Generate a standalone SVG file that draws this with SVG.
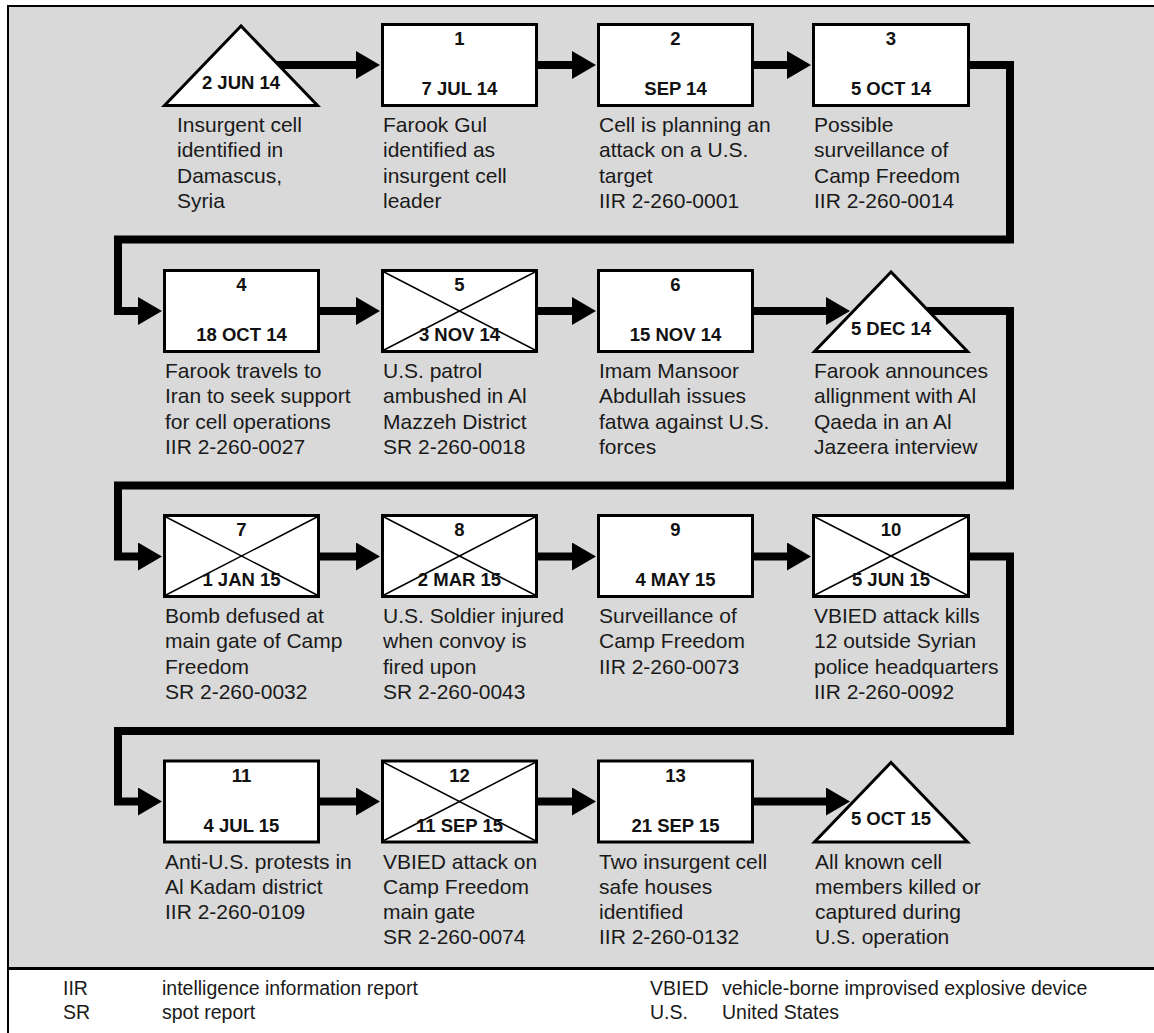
<svg xmlns="http://www.w3.org/2000/svg" width="1154" height="1033" viewBox="0 0 1154 1033">
  <defs>
    <marker id="arrow" markerUnits="userSpaceOnUse" markerWidth="25" markerHeight="28" refX="1" refY="14" orient="auto">
      <path d="M0,0 L24,14 L0,28 Z" fill="#000"/>
    </marker>
  </defs>
  <style>
    .box { fill: #fff; stroke: #000; stroke-width: 3; }
    .tri { fill: #fff; stroke: #000; stroke-width: 3; stroke-linejoin: miter; }
    .x { stroke: #000; stroke-width: 1.5; }
    .conn { fill: none; stroke: #000; stroke-width: 8; stroke-linejoin: miter; marker-end: url(#arrow); }
    .hd { font-family: "Liberation Sans", Arial, sans-serif; font-weight: bold; font-size: 18.5px; fill: #111; text-anchor: middle; }
    .body { font-family: "Liberation Sans", Arial, sans-serif; font-size: 21px; fill: #1a1a1a; }
    .leg { font-family: "Liberation Sans", Arial, sans-serif; font-size: 19.5px; fill: #1a1a1a; }
  </style>

  <!-- panel -->
  <rect x="7" y="5" width="1147" height="964" fill="#d9d9d9"/>
  <rect x="9" y="969" width="1145" height="64" fill="#fff"/>
  <line x1="7" y1="6" x2="1154" y2="6" stroke="#000" stroke-width="2"/>
  <line x1="8" y1="5" x2="8" y2="1033" stroke="#000" stroke-width="2"/>
  <line x1="7" y1="968.5" x2="1154" y2="968.5" stroke="#000" stroke-width="3"/>

  <!-- connectors -->
  <g id="connectors" class="conn">
    <path d="M241 65 H357"/>
    <path d="M538 65 H573"/>
    <path d="M754 65 H788"/>
    <path d="M970 65 H1010 V239.5 H118 V311 H139"/>
    <path d="M320 311 H357"/>
    <path d="M538 311 H573"/>
    <path d="M754 311 H827"/>
    <path d="M891 311 H1010 V485.5 H118 V556.5 H139"/>
    <path d="M320 556.5 H357"/>
    <path d="M538 556.5 H573"/>
    <path d="M754 556.5 H788"/>
    <path d="M970 556.5 H1010 V731 H118 V801.5 H139"/>
    <path d="M320 801.5 H357"/>
    <path d="M538 801.5 H573"/>
    <path d="M754 801.5 H827"/>
  </g>

  <!-- row 1 -->
  <g id="n0">
    <polygon class="tri" points="241,26 164.5,105.5 317.5,105.5"/>
    <text class="hd" x="241" y="88.5">2 JUN 14</text>
    <text class="body" x="177" y="132"><tspan x="177">Insurgent cell</tspan><tspan x="177" dy="25.3">identified in</tspan><tspan x="177" dy="25.3">Damascus,</tspan><tspan x="177" dy="25.3">Syria</tspan></text>
  </g>
  <g id="n1">
    <rect class="box" x="382.5" y="24.5" width="154" height="81"/>
    <text class="hd" x="459.5" y="45">1</text>
    <text class="hd" x="459.5" y="95">7 JUL 14</text>
    <text class="body" x="383" y="132"><tspan x="383">Farook Gul</tspan><tspan x="383" dy="25.3">identified as</tspan><tspan x="383" dy="25.3">insurgent cell</tspan><tspan x="383" dy="25.3">leader</tspan></text>
  </g>
  <g id="n2">
    <rect class="box" x="598.5" y="24.5" width="154" height="81"/>
    <text class="hd" x="675.5" y="45">2</text>
    <text class="hd" x="675.5" y="95">SEP 14</text>
    <text class="body" x="599" y="132"><tspan x="599">Cell is planning an</tspan><tspan x="599" dy="25.3">attack on a U.S.</tspan><tspan x="599" dy="25.3">target</tspan><tspan x="599" dy="25.3">IIR 2-260-0001</tspan></text>
  </g>
  <g id="n3">
    <rect class="box" x="813.5" y="24.5" width="155" height="81"/>
    <text class="hd" x="891" y="45">3</text>
    <text class="hd" x="891" y="95">5 OCT 14</text>
    <text class="body" x="814" y="132"><tspan x="814">Possible</tspan><tspan x="814" dy="25.3">surveillance of</tspan><tspan x="814" dy="25.3">Camp Freedom</tspan><tspan x="814" dy="25.3">IIR 2-260-0014</tspan></text>
  </g>

  <!-- row 2 -->
  <g id="n4">
    <rect class="box" x="164.5" y="270.5" width="154" height="81"/>
    <text class="hd" x="241.5" y="291">4</text>
    <text class="hd" x="241.5" y="341">18 OCT 14</text>
    <text class="body" x="165" y="378"><tspan x="165">Farook travels to</tspan><tspan x="165" dy="25.3">Iran to seek support</tspan><tspan x="165" dy="25.3">for cell operations</tspan><tspan x="165" dy="25.3">IIR 2-260-0027</tspan></text>
  </g>
  <g id="n5">
    <rect class="box" x="382.5" y="270.5" width="154" height="81"/>
    <line class="x" x1="384" y1="272" x2="535" y2="350"/>
    <line class="x" x1="384" y1="350" x2="535" y2="272"/>
    <text class="hd" x="459.5" y="291">5</text>
    <text class="hd" x="459.5" y="341">3 NOV 14</text>
    <text class="body" x="383" y="378"><tspan x="383">U.S. patrol</tspan><tspan x="383" dy="25.3">ambushed in Al</tspan><tspan x="383" dy="25.3">Mazzeh District</tspan><tspan x="383" dy="25.3">SR 2-260-0018</tspan></text>
  </g>
  <g id="n6">
    <rect class="box" x="598.5" y="270.5" width="154" height="81"/>
    <text class="hd" x="675.5" y="291">6</text>
    <text class="hd" x="675.5" y="341">15 NOV 14</text>
    <text class="body" x="599" y="378"><tspan x="599">Imam Mansoor</tspan><tspan x="599" dy="25.3">Abdullah issues</tspan><tspan x="599" dy="25.3">fatwa against U.S.</tspan><tspan x="599" dy="25.3">forces</tspan></text>
  </g>
  <g id="n6a">
    <polygon class="tri" points="891,272 814.5,351.5 967.5,351.5"/>
    <text class="hd" x="891" y="334.5">5 DEC 14</text>
    <text class="body" x="814" y="378"><tspan x="814">Farook announces</tspan><tspan x="814" dy="25.3">allignment with Al</tspan><tspan x="814" dy="25.3">Qaeda in an Al</tspan><tspan x="814" dy="25.3">Jazeera interview</tspan></text>
  </g>

  <!-- row 3 -->
  <g id="n7">
    <rect class="box" x="164.5" y="515.5" width="154" height="81"/>
    <line class="x" x1="166" y1="517" x2="317" y2="595"/>
    <line class="x" x1="166" y1="595" x2="317" y2="517"/>
    <text class="hd" x="241.5" y="536">7</text>
    <text class="hd" x="241.5" y="586">1 JAN 15</text>
    <text class="body" x="165" y="623"><tspan x="165">Bomb defused at</tspan><tspan x="165" dy="25.3">main gate of Camp</tspan><tspan x="165" dy="25.3">Freedom</tspan><tspan x="165" dy="25.3">SR 2-260-0032</tspan></text>
  </g>
  <g id="n8">
    <rect class="box" x="382.5" y="515.5" width="154" height="81"/>
    <line class="x" x1="384" y1="517" x2="535" y2="595"/>
    <line class="x" x1="384" y1="595" x2="535" y2="517"/>
    <text class="hd" x="459.5" y="536">8</text>
    <text class="hd" x="459.5" y="586">2 MAR 15</text>
    <text class="body" x="383" y="623"><tspan x="383">U.S. Soldier injured</tspan><tspan x="383" dy="25.3">when convoy is</tspan><tspan x="383" dy="25.3">fired upon</tspan><tspan x="383" dy="25.3">SR 2-260-0043</tspan></text>
  </g>
  <g id="n9">
    <rect class="box" x="598.5" y="515.5" width="154" height="81"/>
    <text class="hd" x="675.5" y="536">9</text>
    <text class="hd" x="675.5" y="586">4 MAY 15</text>
    <text class="body" x="599" y="623"><tspan x="599">Surveillance of</tspan><tspan x="599" dy="25.3">Camp Freedom</tspan><tspan x="599" dy="25.3">IIR 2-260-0073</tspan></text>
  </g>
  <g id="n10">
    <rect class="box" x="813.5" y="515.5" width="155" height="81"/>
    <line class="x" x1="815" y1="517" x2="967" y2="595"/>
    <line class="x" x1="815" y1="595" x2="967" y2="517"/>
    <text class="hd" x="891" y="536">10</text>
    <text class="hd" x="891" y="586">5 JUN 15</text>
    <text class="body" x="814" y="623"><tspan x="814">VBIED attack kills</tspan><tspan x="814" dy="25.3">12 outside Syrian</tspan><tspan x="814" dy="25.3">police headquarters</tspan><tspan x="814" dy="25.3">IIR 2-260-0092</tspan></text>
  </g>

  <!-- row 4 -->
  <g id="n11">
    <rect class="box" x="164.5" y="761" width="154" height="81"/>
    <text class="hd" x="241.5" y="781.5">11</text>
    <text class="hd" x="241.5" y="831.5">4 JUL 15</text>
    <text class="body" x="165" y="868.5"><tspan x="165">Anti-U.S. protests in</tspan><tspan x="165" dy="25.3">Al Kadam district</tspan><tspan x="165" dy="25.3">IIR 2-260-0109</tspan></text>
  </g>
  <g id="n12">
    <rect class="box" x="382.5" y="761" width="154" height="81"/>
    <line class="x" x1="384" y1="762.5" x2="535" y2="840.5"/>
    <line class="x" x1="384" y1="840.5" x2="535" y2="762.5"/>
    <text class="hd" x="459.5" y="781.5">12</text>
    <text class="hd" x="459.5" y="831.5">11 SEP 15</text>
    <text class="body" x="383" y="868.5"><tspan x="383">VBIED attack on</tspan><tspan x="383" dy="25.3">Camp Freedom</tspan><tspan x="383" dy="25.3">main gate</tspan><tspan x="383" dy="25.3">SR 2-260-0074</tspan></text>
  </g>
  <g id="n13">
    <rect class="box" x="598.5" y="761" width="154" height="81"/>
    <text class="hd" x="675.5" y="781.5">13</text>
    <text class="hd" x="675.5" y="831.5">21 SEP 15</text>
    <text class="body" x="599" y="868.5"><tspan x="599">Two insurgent cell</tspan><tspan x="599" dy="25.3">safe houses</tspan><tspan x="599" dy="25.3">identified</tspan><tspan x="599" dy="25.3">IIR 2-260-0132</tspan></text>
  </g>
  <g id="n14">
    <polygon class="tri" points="891,762.5 814.5,842 967.5,842"/>
    <text class="hd" x="891" y="825">5 OCT 15</text>
    <text class="body" x="815" y="868.5"><tspan x="815">All known cell</tspan><tspan x="815" dy="25.3">members killed or</tspan><tspan x="815" dy="25.3">captured during</tspan><tspan x="815" dy="25.3">U.S. operation</tspan></text>
  </g>

  <!-- abbreviations -->
  <g id="legend" class="leg">
    <text x="63" y="995">IIR</text>
    <text x="162" y="995">intelligence information report</text>
    <text x="63" y="1019">SR</text>
    <text x="162" y="1019">spot report</text>
    <text x="650" y="995">VBIED</text>
    <text x="722" y="995">vehicle-borne improvised explosive device</text>
    <text x="650" y="1019">U.S.</text>
    <text x="722" y="1019">United States</text>
  </g>
</svg>
